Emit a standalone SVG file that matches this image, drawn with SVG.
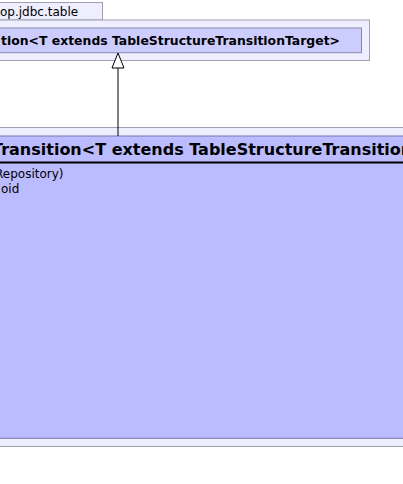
<svg xmlns="http://www.w3.org/2000/svg" width="403" height="484" viewBox="0 0 403 484">
<style>
.pkg{fill:#EEEEFF;stroke:#A0A0B0;stroke-width:1}
.cls1{fill:#CCCCFF;stroke:#8888AA;stroke-width:1}
.cls2{fill:#BBBBFF;stroke:#7878A8;stroke-width:1}
.t{font-family:"DejaVu Sans",sans-serif;fill:#000}
.b{font-weight:bold}
</style>
<rect x="0" y="0" width="403" height="484" fill="#FFFFFF"/>
<g id="pkg-top">
<rect class="pkg" x="-10" y="2.5" width="112.5" height="17.5"/>
<rect class="pkg" x="-10" y="20" width="379.5" height="40.5"/>
<text class="t" x="0" y="15.5" font-size="12">op.jdbc.table</text>
</g>
<g id="class-top">
<rect class="cls1" x="-10" y="28" width="371.5" height="24.7"/>
<text class="t b" x="1" y="45" font-size="12.3" textLength="339" lengthAdjust="spacingAndGlyphs">tion&lt;T extends TableStructureTransitionTarget&gt;</text>
</g>
<g id="pkg-bottom">
<rect class="pkg" x="-10" y="127.5" width="423" height="319"/>
</g>
<g id="class-bottom">
<rect class="cls2" x="-10" y="136" width="423" height="302.3"/>
<line x1="-10" y1="162.5" x2="413" y2="162.5" stroke="#000" stroke-width="2"/>
<text class="t b" x="-8" y="155" font-size="16">Transition&lt;T extends TableStructureTransition</text>
<text class="t" x="-5" y="177.5" font-size="12">Repository)</text>
<text class="t" x="1" y="192.5" font-size="12">oid</text>
</g>
<g id="connectors">
<line x1="118" y1="68" x2="118" y2="136" stroke="#000" stroke-width="1"/>
<polygon points="118,53 112,68 124,68" fill="#FFFFFF" stroke="#000" stroke-width="1"/>
</g>
</svg>
